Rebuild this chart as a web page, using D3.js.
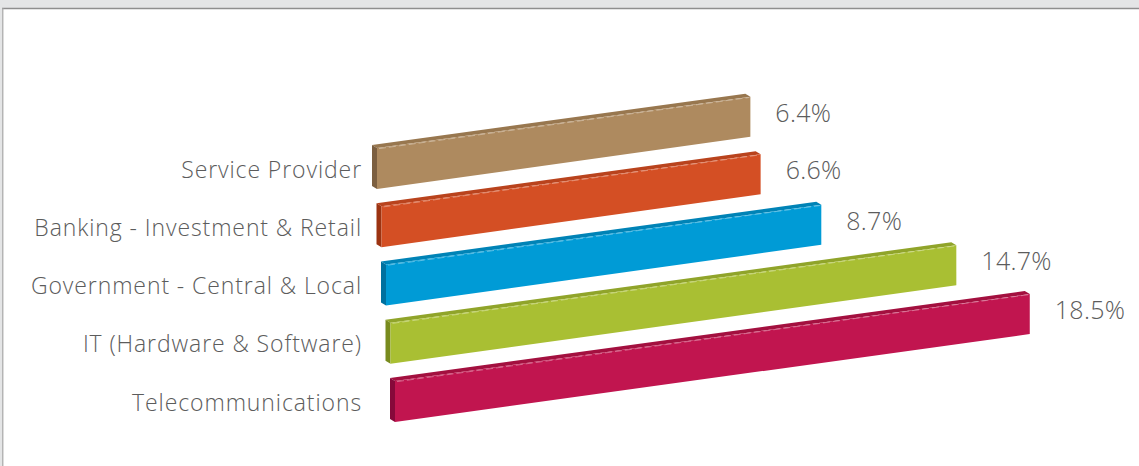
<!DOCTYPE html>
<html>
<head>
<meta charset="utf-8">
<script src="https://cdn.jsdelivr.net/npm/d3@7"></script>
<style>
  html, body { margin: 0; padding: 0; background: #e4e5e6; }
  svg { display: block; }
</style>
</head>
<body>
<svg id="chart" width="1139" height="466"></svg>
<script>
// ---- data ----
const categories = [
  "Service Provider",
  "Banking - Investment & Retail",
  "Government - Central & Local",
  "IT (Hardware & Software)",
  "Telecommunications"
];
const values = [6.4, 6.6, 8.7, 14.7, 18.5];
const valueLabels = ["6.4%", "6.6%", "8.7%", "14.7%", "18.5%"];
const frontColors = ["#ae8a5f", "#d44f24", "#009bd6", "#a9bf33", "#c1154f"];
const sideColors  = ["#7c5f40", "#9c3311", "#00719f", "#788b1e", "#86093a"];
const topColors   = ["#98774f", "#b9431d", "#0083b6", "#90a42a", "#a3103f"];

// ---- layout ----
const W = 1139, H = 466;
const svg = d3.select("#chart");

// frame
svg.append("rect").attr("width", W).attr("height", H).attr("fill", "#e4e5e6");
svg.append("rect").attr("x", 3).attr("y", 9).attr("width", W - 3).attr("height", H - 9).attr("fill", "#ffffff");
svg.append("line").attr("x1", 2).attr("x2", W).attr("y1", 8.5).attr("y2", 8.5)
  .attr("stroke", "#8e8e8e").attr("stroke-width", 1.5);
svg.append("line").attr("x1", 2.8).attr("x2", 2.8).attr("y1", 8).attr("y2", H)
  .attr("stroke", "#a8a8a8").attr("stroke-width", 1.2);

const idx = d3.range(categories.length);
// row placement (perspective-ish: rows drift right as they come forward)
const rowX = d3.scaleLinear().domain([0, categories.length - 1]).range([377, 395]);
const rowY = d3.scaleLinear().domain([0, categories.length - 1]).range([148, 381]);
// bar length scale
const lenScale = d3.scaleSqrt().domain([0, 20]).range([0, 660]);

const slope = 0.137;   // upward tilt of the bars
const barH = 41;       // front face height
const dx = -5, dy = -3; // depth offset for side & top faces

const bars = idx.map(i => {
  const x0 = rowX(i), y0 = rowY(i);
  const x1 = x0 + lenScale(values[i]);
  const y1 = y0 - slope * (x1 - x0);
  return { i, x0, y0, x1, y1 };
});

const poly = pts => "M" + pts.map(p => p.join(",")).join("L") + "Z";

const g = svg.append("g");
const bg = g.selectAll("g.bar").data(bars).join("g").attr("class", "bar");

// top face
bg.append("path")
  .attr("d", b => poly([[b.x0, b.y0], [b.x1, b.y1], [b.x1 + dx, b.y1 + dy], [b.x0 + dx, b.y0 + dy]]))
  .attr("fill", b => topColors[b.i]);
// side face (left end)
bg.append("path")
  .attr("d", b => poly([[b.x0, b.y0], [b.x0, b.y0 + barH], [b.x0 + dx, b.y0 + barH + dy], [b.x0 + dx, b.y0 + dy]]))
  .attr("fill", b => sideColors[b.i]);
// front face
bg.append("path")
  .attr("d", b => poly([[b.x0, b.y0], [b.x1, b.y1], [b.x1, b.y1 + barH - 1], [b.x0, b.y0 + barH]]))
  .attr("fill", b => frontColors[b.i]);
// highlight along top edge
bg.append("line")
  .attr("x1", b => b.x0 + 2).attr("y1", b => b.y0 + 0.6)
  .attr("x2", b => b.x1 - 1).attr("y2", b => b.y1 + 0.6)
  .attr("stroke", "#ffffff").attr("stroke-opacity", 0.45)
  .attr("stroke-width", 0.8).attr("stroke-dasharray", "7,3");

// category labels
svg.append("g").selectAll("text").data(bars).join("text")
  .attr("x", 362)
  .attr("y", b => b.y0 + barH / 2 + 9)
  .attr("text-anchor", "end")
  .attr("font-family", "'Open Sans', 'Liberation Sans', sans-serif")
  .attr("font-weight", 300)
  .attr("font-size", 23)
  .attr("letter-spacing", "0.9px")
  .attr("fill", "#5c5c5c")
  .text(b => categories[b.i]);

// value labels
svg.append("g").selectAll("text").data(bars).join("text")
  .attr("x", b => b.x1 + 25)
  .attr("y", b => b.y1 + 25)
  .attr("text-anchor", "start")
  .attr("font-family", "'Open Sans', 'Liberation Sans', sans-serif")
  .attr("font-weight", 300)
  .attr("font-size", 25)
  .attr("letter-spacing", "0.3px")
  .attr("fill", "#5c5c5c")
  .text(b => valueLabels[b.i]);
</script>
</body>
</html>
